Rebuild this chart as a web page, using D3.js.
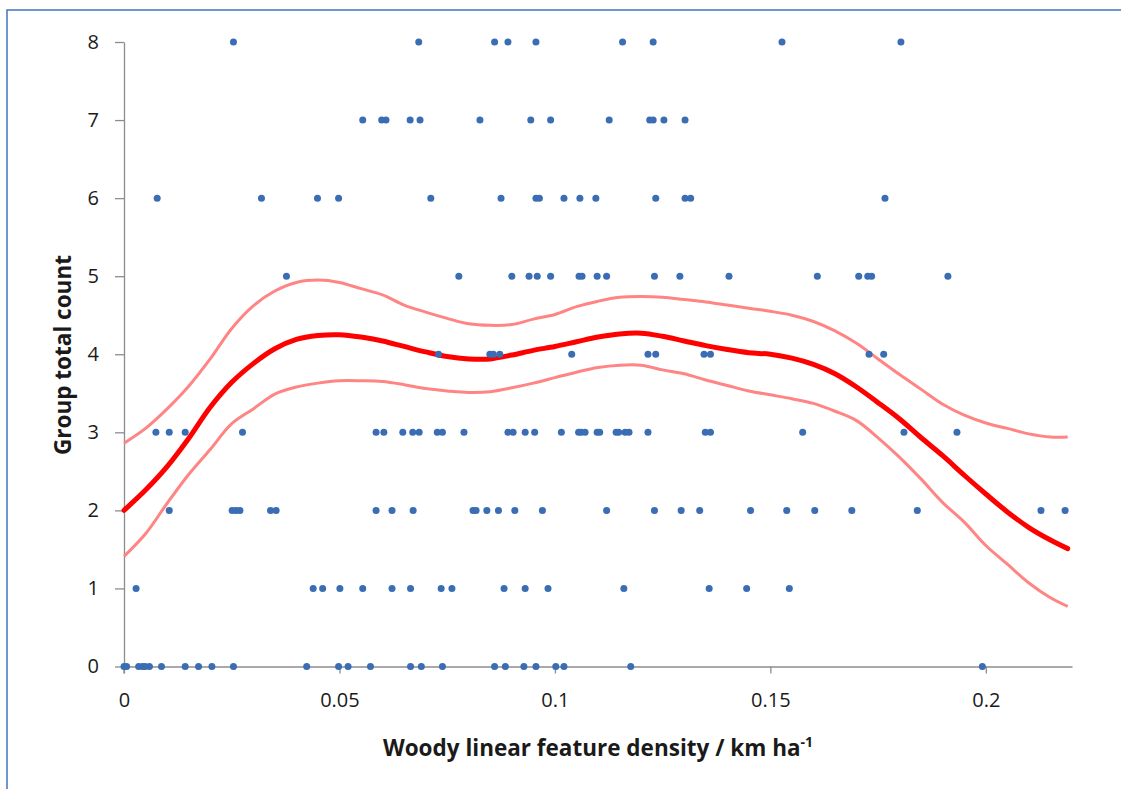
<!DOCTYPE html>
<html>
<head>
<meta charset="utf-8">
<script src="https://cdn.jsdelivr.net/npm/d3@7"></script>
<style>
  html, body { margin: 0; padding: 0; background: #fff; }
  svg { display: block; }
</style>
</head>
<body>
<svg id="chart" width="1121" height="789"></svg>
<script>
// ---------- data ----------
const countLevels = [0, 1, 2, 3, 4, 5, 6, 7, 8];
const densityCount0 = [0, 0.0006, 0.0034, 0.0043, 0.0049, 0.0059, 0.0087, 0.0142, 0.0173, 0.0204, 0.0254, 0.0424, 0.0498, 0.052, 0.0572, 0.0665, 0.069, 0.0739, 0.086, 0.0885, 0.0928, 0.0956, 0.1002, 0.1021, 0.1176, 0.1992];
const densityCount1 = [0.0028, 0.0439, 0.0461, 0.0501, 0.0554, 0.0622, 0.0665, 0.0736, 0.0761, 0.0882, 0.0931, 0.0984, 0.116, 0.1358, 0.1445, 0.1544];
const densityCount2 = [0.0105, 0.0251, 0.026, 0.0269, 0.034, 0.0353, 0.0585, 0.0622, 0.0671, 0.081, 0.0817, 0.0842, 0.0869, 0.0907, 0.0971, 0.112, 0.1231, 0.1293, 0.1336, 0.1454, 0.1538, 0.1603, 0.1689, 0.1841, 0.2128, 0.2184];
const densityCount3 = [0.0074, 0.0105, 0.0142, 0.0275, 0.0585, 0.0603, 0.0647, 0.067, 0.0685, 0.0727, 0.0739, 0.0789, 0.0891, 0.0903, 0.0931, 0.0953, 0.1015, 0.1055, 0.1061, 0.107, 0.1098, 0.1104, 0.1142, 0.1148, 0.1163, 0.1172, 0.1216, 0.1349, 0.1361, 0.1575, 0.181, 0.1933];
const densityCount4 = [0.073, 0.0849, 0.0857, 0.0872, 0.1039, 0.1216, 0.1234, 0.1346, 0.1361, 0.1729, 0.1763];
const densityCount5 = [0.0377, 0.0777, 0.09, 0.094, 0.0959, 0.099, 0.1056, 0.1063, 0.1098, 0.112, 0.1231, 0.129, 0.1404, 0.1609, 0.1705, 0.1726, 0.1735, 0.1912];
const densityCount6 = [0.0077, 0.0319, 0.0449, 0.0498, 0.0712, 0.0875, 0.0956, 0.0964, 0.1021, 0.1058, 0.1095, 0.1234, 0.1302, 0.1315, 0.1766];
const densityCount7 = [0.0554, 0.0598, 0.0608, 0.0664, 0.0687, 0.0826, 0.0944, 0.099, 0.1126, 0.122, 0.1228, 0.1253, 0.1302];
const densityCount8 = [0.0254, 0.0684, 0.086, 0.0891, 0.0956, 0.1157, 0.1228, 0.1527, 0.1803];
const densityByCount = [densityCount0, densityCount1, densityCount2, densityCount3, densityCount4,
                        densityCount5, densityCount6, densityCount7, densityCount8];

// smoothed fit and confidence band, sampled along density
const curveX = [0, 0.005, 0.01, 0.015, 0.02, 0.025, 0.03, 0.035, 0.04, 0.045, 0.05, 0.055, 0.06, 0.065, 0.07, 0.075, 0.08, 0.085, 0.09, 0.095, 0.1, 0.105, 0.11, 0.115, 0.12, 0.125, 0.13, 0.135, 0.14, 0.145, 0.15, 0.155, 0.16, 0.165, 0.17, 0.175, 0.18, 0.185, 0.19, 0.195, 0.2, 0.205, 0.21, 0.215, 0.219];
const fitY   = [2.00, 2.26, 2.56, 2.92, 3.32, 3.64, 3.88, 4.07, 4.19, 4.24, 4.25, 4.22, 4.17, 4.10, 4.03, 3.97, 3.94, 3.94, 3.99, 4.05, 4.10, 4.16, 4.22, 4.26, 4.27, 4.23, 4.17, 4.11, 4.06, 4.02, 4.00, 3.95, 3.87, 3.75, 3.58, 3.38, 3.17, 2.93, 2.70, 2.45, 2.21, 1.98, 1.78, 1.62, 1.51];
const upperY = [2.86, 3.05, 3.30, 3.59, 3.94, 4.33, 4.62, 4.81, 4.92, 4.95, 4.92, 4.84, 4.76, 4.63, 4.54, 4.46, 4.39, 4.37, 4.38, 4.45, 4.51, 4.61, 4.68, 4.73, 4.74, 4.73, 4.70, 4.67, 4.63, 4.59, 4.55, 4.50, 4.42, 4.30, 4.14, 3.94, 3.74, 3.55, 3.36, 3.22, 3.12, 3.05, 2.98, 2.94, 2.94];
const lowerY = [1.41, 1.70, 2.09, 2.46, 2.78, 3.11, 3.30, 3.49, 3.58, 3.63, 3.66, 3.66, 3.65, 3.61, 3.56, 3.53, 3.51, 3.52, 3.57, 3.63, 3.70, 3.77, 3.83, 3.86, 3.86, 3.80, 3.75, 3.67, 3.60, 3.53, 3.48, 3.43, 3.37, 3.27, 3.15, 2.93, 2.68, 2.40, 2.10, 1.85, 1.55, 1.31, 1.07, 0.88, 0.77];

const xTicks = [0, 0.05, 0.1, 0.15, 0.2];
const xTickLabels = ["0", "0.05", "0.1", "0.15", "0.2"];
const yTicks = [0, 1, 2, 3, 4, 5, 6, 7, 8];
const xTitle = "Woody linear feature density / km ha";
const xTitleSup = "-1";
const yTitle = "Group total count";

// ---------- drawing ----------
const svg = d3.select("#chart");

// outer frame (only left and top edges are visible in the crop)
svg.append("rect")
  .attr("x", 7).attr("y", 10).attr("width", 1300).attr("height", 1000)
  .attr("fill", "none").attr("stroke", "#4A7CC7").attr("stroke-width", 1.6);

const x = d3.scaleLinear().domain([0, 0.22]).range([124, 1072]);
const y = d3.scaleLinear().domain([0, 8]).range([666.5, 42]);

const axisColor = "#8C8C8C";
const fontFam = "'Open Sans', 'Liberation Sans', sans-serif";

// x axis
const gx = svg.append("g").attr("transform", `translate(0,${y(0)})`)
  .call(d3.axisBottom(x).tickValues(xTicks).tickFormat((d, i) => xTickLabels[i]).tickSize(7).tickSizeOuter(0).tickPadding(19));
gx.select(".domain").attr("stroke", axisColor).attr("stroke-width", 1.3);
gx.selectAll(".tick line").attr("stroke", axisColor).attr("stroke-width", 1.3);
gx.selectAll(".tick text").attr("font-size", 20).attr("fill", "#1a1a1a").attr("font-family", fontFam);

// y axis
const gy = svg.append("g").attr("transform", `translate(${x(0)},0)`)
  .call(d3.axisLeft(y).tickValues(yTicks).tickFormat(d3.format("d")).tickSize(9).tickSizeOuter(0).tickPadding(16));
gy.select(".domain").attr("stroke", axisColor).attr("stroke-width", 1.3);
gy.selectAll(".tick line").attr("stroke", axisColor).attr("stroke-width", 1.3);
gy.selectAll(".tick text").attr("font-size", 20).attr("fill", "#1a1a1a").attr("font-family", fontFam);
// extend y axis line slightly below x axis (Excel style)
svg.append("line").attr("x1", x(0)).attr("x2", x(0)).attr("y1", y(0)).attr("y2", y(0) + 7)
  .attr("stroke", axisColor).attr("stroke-width", 1.3);

// curves
const line = d3.line().x(d => x(d[0])).y(d => y(d[1])).curve(d3.curveCatmullRom.alpha(0.5));
const toPairs = ys => curveX.map((v, i) => [v, ys[i]]);

svg.append("path").attr("d", line(toPairs(upperY)))
  .attr("fill", "none").attr("stroke", "#FF8484").attr("stroke-width", 3);
svg.append("path").attr("d", line(toPairs(lowerY)))
  .attr("fill", "none").attr("stroke", "#FF8484").attr("stroke-width", 3);
svg.append("path").attr("d", line(toPairs(fitY)))
  .attr("fill", "none").attr("stroke", "#FF0000").attr("stroke-width", 5)
  .attr("stroke-linejoin", "round").attr("stroke-linecap", "round");

// scatter points
const pts = [];
densityByCount.forEach((arr, i) => arr.forEach(v => pts.push([v, countLevels[i]])));
svg.append("g").selectAll("circle").data(pts).join("circle")
  .attr("cx", d => x(d[0])).attr("cy", d => y(d[1])).attr("r", 3.5)
  .attr("fill", "#3A6DB3");

// axis titles
const xt = svg.append("text")
  .attr("x", 598).attr("y", 756).attr("text-anchor", "middle")
  .attr("font-family", fontFam).attr("font-weight", "bold").attr("font-size", 22.5)
  .attr("fill", "#1a1a1a");
xt.append("tspan").text(xTitle);
xt.append("tspan").text(xTitleSup).attr("font-size", 14).attr("dy", -9);

svg.append("text")
  .attr("transform", `translate(71,355) rotate(-90)`).attr("text-anchor", "middle")
  .attr("font-family", fontFam).attr("font-weight", "bold").attr("font-size", 22.5)
  .attr("fill", "#1a1a1a")
  .text(yTitle);
</script>
</body>
</html>
